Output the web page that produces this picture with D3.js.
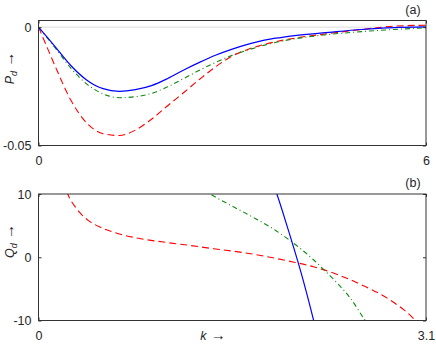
<!DOCTYPE html>
<html>
<head>
<meta charset="utf-8">
<script src="https://cdn.jsdelivr.net/npm/d3@7"></script>
<style>
  body { margin: 0; background: #fff; }
  text { font-family: "Liberation Sans", Arial, sans-serif; fill: #262626; }
</style>
</head>
<body>
<svg id="chart" width="436" height="347"></svg>
<script>
// ---- data ----
// panel (a): P_d against k
const kTop = [0, 0.1, 0.25, 0.5, 0.75, 1.0, 1.25, 1.5, 1.75, 2.0, 2.25, 2.5, 2.75, 3.0, 3.25, 3.5, 3.75, 4.0, 4.5, 5.0, 5.5, 6.0];
const pBlue  = [0, -0.0032, -0.0080, -0.0162, -0.0224, -0.0260, -0.0271, -0.0264, -0.0247, -0.0217, -0.0181, -0.0148, -0.0118, -0.0093, -0.0072, -0.0055, -0.0044, -0.0035, -0.0022, -0.0010, -0.0002, 0.0001];
const pGreen = [0, -0.0034, -0.0085, -0.0173, -0.0241, -0.0282, -0.0298, -0.0294, -0.0280, -0.0252, -0.0217, -0.0181, -0.0148, -0.0119, -0.0096, -0.0076, -0.0060, -0.0048, -0.0031, -0.0019, -0.0010, -0.0003];
const pRed   = [0, -0.0064, -0.0160, -0.0308, -0.0406, -0.0450, -0.0458, -0.0435, -0.0389, -0.0332, -0.0276, -0.0219, -0.0166, -0.0122, -0.0093, -0.0073, -0.0057, -0.0045, -0.0027, -0.0010, 0.0004, 0.0008];

// panel (b): Q_d against k (each curve has its own k samples)
const kRedB   = [0.2, 0.234, 0.3, 0.4, 0.5, 0.6, 0.8, 1.0, 1.2, 1.4, 1.6, 1.8, 2.0, 2.2, 2.4, 2.6, 2.8, 3.0, 3.05];
const qRed    = [12, 10, 7.8, 5.8, 4.7, 3.95, 3.0, 2.4, 1.9, 1.35, 0.85, 0.2, -0.6, -1.5, -2.8, -4.5, -6.6, -9.7, -10.8];
const kGreenB = [1.3, 1.372, 1.5, 1.7, 1.9, 2.1, 2.2, 2.3, 2.4, 2.5, 2.6, 2.65];
const qGreen  = [10.8, 10, 8.6, 6.5, 4.2, 1.3, -0.4, -2.3, -4.3, -6.6, -9.6, -11];
const kBlueB  = [1.88, 1.907, 2.0, 2.1, 2.2, 2.22];
const qBlue   = [11.5, 10, 4.2, -2.4, -9.9, -11.5];

const topYTicks = [0, -0.05];
const topXTicks = [0, 6];
const botYTicks = [10, 0, -10];
const botXTicks = [0, 3.1];

const svg = d3.select('#chart');

// styles for the three series
const series = {
    blue:  { color: '#0000ff', dash: null,      width: 1.2 },
    green: { color: '#118811', dash: '5,3,1,3', width: 1.1 },
    red:   { color: '#ff0000', dash: '7,4',     width: 1.1 }
};

function drawPanel(opt) {
    const x = d3.scaleLinear().domain(opt.xDomain).range([38.5, 426]);
    const y = d3.scaleLinear().domain(opt.yDomain).range([opt.bottom, opt.top]);

    const g = svg.append('g');

    // clip so curves stop at the frame
    g.append('clipPath').attr('id', opt.id + '-clip')
        .append('rect')
        .attr('x', x.range()[0]).attr('y', opt.top)
        .attr('width', x.range()[1] - x.range()[0])
        .attr('height', opt.bottom - opt.top);

    if (opt.zeroLine) {
        g.append('line')
            .attr('x1', x.range()[0]).attr('x2', x.range()[1])
            .attr('y1', y(0)).attr('y2', y(0))
            .attr('stroke', '#dcdcdc').attr('stroke-width', 1);
    }

    const line = d3.line()
        .x(d => x(d[0]))
        .y(d => y(d[1]))
        .curve(d3.curveMonotoneX);

    const plot = g.append('g').attr('clip-path', `url(#${opt.id}-clip)`);
    opt.curves.forEach(c => {
        const s = series[c.name];
        plot.append('path')
            .datum(d3.zip(c.k, c.v))
            .attr('d', line)
            .attr('fill', 'none')
            .attr('stroke', s.color)
            .attr('stroke-width', s.width)
            .attr('stroke-dasharray', s.dash);
    });

    // axes, ticks pointing inwards
    const fmt = d => String(d);
    const left = g.append('g').attr('transform', `translate(${x.range()[0]},0)`)
        .call(d3.axisLeft(y).tickValues(opt.yTicks).tickFormat(fmt).tickSizeInner(-3).tickSizeOuter(0).tickPadding(7));
    const right = g.append('g').attr('transform', `translate(${x.range()[1]},0)`)
        .call(d3.axisRight(y).tickValues(opt.yTicks).tickFormat('').tickSizeInner(-3).tickSizeOuter(0));
    const bottom = g.append('g').attr('transform', `translate(0,${opt.bottom})`)
        .call(d3.axisBottom(x).tickValues(opt.xTicks).tickFormat(fmt).tickSizeInner(-3).tickSizeOuter(0).tickPadding(11));
    const topAx = g.append('g').attr('transform', `translate(0,${opt.top})`)
        .call(d3.axisTop(x).tickValues(opt.xTicks).tickFormat('').tickSizeInner(-3).tickSizeOuter(0));

    [left, right, bottom, topAx].forEach(a => {
        a.select('.domain').remove();
        a.selectAll('line').attr('stroke', '#333');
        a.selectAll('text').attr('font-size', '12.5px').attr('fill', '#262626')
            .style('font-family', '"Liberation Sans", Arial, sans-serif');
    });
    bottom.selectAll('text').attr('dy', '0.71em');

    // frame
    g.append('rect')
        .attr('x', x.range()[0]).attr('y', opt.top)
        .attr('width', x.range()[1] - x.range()[0])
        .attr('height', opt.bottom - opt.top)
        .attr('fill', 'none').attr('stroke', '#333').attr('stroke-width', 1);

    // panel tag
    g.append('text')
        .attr('x', 413).attr('y', opt.top - 7)
        .attr('text-anchor', 'middle')
        .attr('font-size', '12.5px')
        .text(opt.tag);

    // y label, rotated
    const yl = g.append('text')
        .attr('transform', `translate(14,${opt.yLabelY}) rotate(-90)`)
        .attr('text-anchor', 'middle')
        .attr('font-size', '12.5px');
    yl.append('tspan').attr('font-style', 'italic').text(opt.yLabel);
    yl.append('tspan').attr('font-style', 'italic').attr('font-size', '9px').attr('dy', 3).text('d');
    yl.append('tspan').attr('dy', -3).attr('font-size', '15px').text(' \u2192');

    return { x, y };
}

drawPanel({
    id: 'a', top: 20.5, bottom: 145.5,
    xDomain: [0, 6], yDomain: [-0.05, 0.0028],
    xTicks: topXTicks, yTicks: topYTicks,
    zeroLine: true, tag: '(a)',
    yLabel: 'P', yLabelY: 68,
    curves: [
        { name: 'red',   k: kTop, v: pRed },
        { name: 'green', k: kTop, v: pGreen },
        { name: 'blue',  k: kTop, v: pBlue }
    ]
});

drawPanel({
    id: 'b', top: 194, bottom: 320.5,
    xDomain: [0, 3.1], yDomain: [-10, 10],
    xTicks: botXTicks, yTicks: botYTicks,
    zeroLine: false, tag: '(b)',
    yLabel: 'Q', yLabelY: 241,
    curves: [
        { name: 'red',   k: kRedB,   v: qRed },
        { name: 'green', k: kGreenB, v: qGreen },
        { name: 'blue',  k: kBlueB,  v: qBlue }
    ]
});

// x label of the lower panel
const xl = svg.append('text')
    .attr('x', 213).attr('y', 340)
    .attr('text-anchor', 'middle')
    .attr('font-size', '12.5px');
xl.append('tspan').attr('font-style', 'italic').text('k');
xl.append('tspan').attr('font-size', '15px').text(' \u2192');
</script>
</body>
</html>
